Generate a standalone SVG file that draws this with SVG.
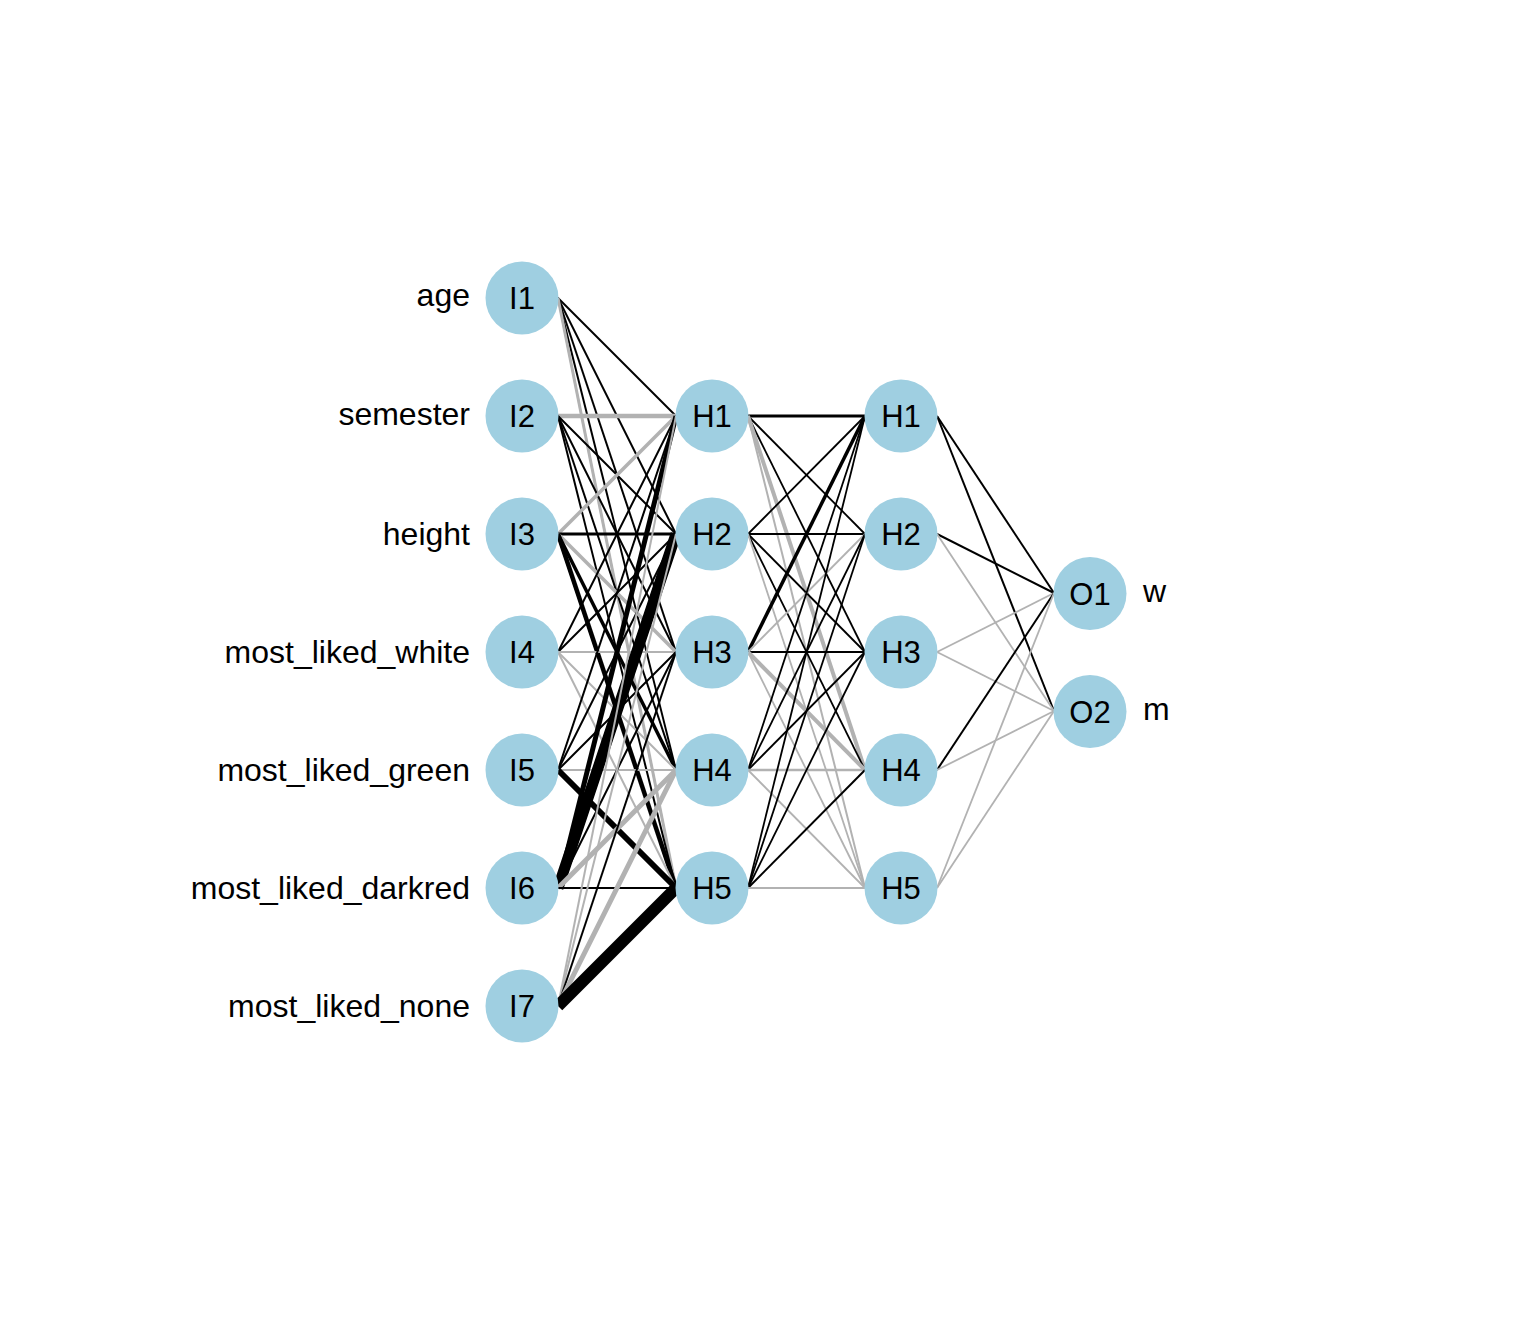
<svg xmlns="http://www.w3.org/2000/svg" width="1536" height="1344" viewBox="0 0 1536 1344">
<style>
.p{stroke:#000;fill:none;stroke-linecap:butt}
.n{stroke:#b2b2b2;fill:none;stroke-linecap:butt}
.node circle{fill:#9fcfe1}
.node text{font-family:"Liberation Sans",Arial,sans-serif;font-size:31px;fill:#000;text-anchor:middle}
.lbl{font-family:"Liberation Sans",Arial,sans-serif;font-size:32px;fill:#000}
</style>
<rect width="1536" height="1344" fill="#fff"/>
<g id="connectors">
<!-- input to hidden 1 -->
<line class="p" x1="558" y1="298" x2="676" y2="416" stroke-width="2"/>
<line class="p" x1="558" y1="298" x2="676" y2="534" stroke-width="2"/>
<line class="p" x1="558" y1="298" x2="676" y2="652" stroke-width="2"/>
<line class="p" x1="558" y1="298" x2="676" y2="770" stroke-width="2"/>
<line class="n" x1="558" y1="298" x2="676" y2="888" stroke-width="3"/>
<line class="n" x1="558" y1="416" x2="676" y2="416" stroke-width="4.5"/>
<line class="p" x1="558" y1="416" x2="676" y2="534" stroke-width="2"/>
<line class="p" x1="558" y1="416" x2="676" y2="652" stroke-width="2"/>
<line class="p" x1="558" y1="416" x2="676" y2="770" stroke-width="2"/>
<line class="p" x1="558" y1="416" x2="676" y2="888" stroke-width="2"/>
<line class="n" x1="558" y1="534" x2="676" y2="416" stroke-width="3.5"/>
<line class="p" x1="558" y1="534" x2="676" y2="534" stroke-width="3"/>
<line class="n" x1="558" y1="534" x2="676" y2="652" stroke-width="3.5"/>
<line class="p" x1="558" y1="534" x2="676" y2="770" stroke-width="3.5"/>
<line class="p" x1="558" y1="534" x2="676" y2="888" stroke-width="4.5"/>
<line class="p" x1="558" y1="652" x2="676" y2="416" stroke-width="2"/>
<line class="p" x1="558" y1="652" x2="676" y2="534" stroke-width="2"/>
<line class="n" x1="558" y1="652" x2="676" y2="652" stroke-width="2"/>
<line class="n" x1="558" y1="652" x2="676" y2="770" stroke-width="2"/>
<line class="n" x1="558" y1="652" x2="676" y2="888" stroke-width="2"/>
<line class="p" x1="558" y1="770" x2="676" y2="416" stroke-width="2"/>
<line class="p" x1="558" y1="770" x2="676" y2="534" stroke-width="2"/>
<line class="p" x1="558" y1="770" x2="676" y2="652" stroke-width="2"/>
<line class="n" x1="558" y1="770" x2="676" y2="770" stroke-width="2"/>
<line class="p" x1="558" y1="770" x2="676" y2="888" stroke-width="6"/>
<line class="p" x1="558" y1="888" x2="676" y2="416" stroke-width="5"/>
<line class="p" x1="558" y1="888" x2="676" y2="534" stroke-width="11"/>
<line class="p" x1="558" y1="888" x2="676" y2="652" stroke-width="2"/>
<line class="n" x1="558" y1="888" x2="676" y2="770" stroke-width="5"/>
<line class="p" x1="558" y1="888" x2="676" y2="888" stroke-width="2"/>
<line class="n" x1="558" y1="1006" x2="676" y2="416" stroke-width="2"/>
<line class="n" x1="558" y1="1006" x2="676" y2="534" stroke-width="2"/>
<line class="p" x1="558" y1="1006" x2="676" y2="652" stroke-width="2"/>
<line class="n" x1="558" y1="1006" x2="676" y2="770" stroke-width="5"/>
<line class="p" x1="558" y1="1006" x2="676" y2="888" stroke-width="12"/>
<!-- hidden 1 to hidden 2 -->
<line class="p" x1="748" y1="416" x2="865" y2="416" stroke-width="3"/>
<line class="p" x1="748" y1="416" x2="865" y2="534" stroke-width="1.8"/>
<line class="p" x1="748" y1="416" x2="865" y2="652" stroke-width="1.8"/>
<line class="n" x1="748" y1="416" x2="865" y2="770" stroke-width="4"/>
<line class="n" x1="748" y1="416" x2="865" y2="888" stroke-width="2"/>
<line class="p" x1="748" y1="534" x2="865" y2="416" stroke-width="1.8"/>
<line class="p" x1="748" y1="534" x2="865" y2="534" stroke-width="2"/>
<line class="p" x1="748" y1="534" x2="865" y2="652" stroke-width="1.8"/>
<line class="p" x1="748" y1="534" x2="865" y2="770" stroke-width="1.8"/>
<line class="n" x1="748" y1="534" x2="865" y2="888" stroke-width="1.8"/>
<line class="p" x1="748" y1="652" x2="865" y2="416" stroke-width="3.5"/>
<line class="n" x1="748" y1="652" x2="865" y2="534" stroke-width="1.8"/>
<line class="p" x1="748" y1="652" x2="865" y2="652" stroke-width="2"/>
<line class="n" x1="748" y1="652" x2="865" y2="770" stroke-width="4"/>
<line class="n" x1="748" y1="652" x2="865" y2="888" stroke-width="1.8"/>
<line class="p" x1="748" y1="770" x2="865" y2="416" stroke-width="1.8"/>
<line class="p" x1="748" y1="770" x2="865" y2="534" stroke-width="1.8"/>
<line class="p" x1="748" y1="770" x2="865" y2="652" stroke-width="1.8"/>
<line class="n" x1="748" y1="770" x2="865" y2="770" stroke-width="2.5"/>
<line class="n" x1="748" y1="770" x2="865" y2="888" stroke-width="1.8"/>
<line class="p" x1="748" y1="888" x2="865" y2="416" stroke-width="1.8"/>
<line class="p" x1="748" y1="888" x2="865" y2="534" stroke-width="1.8"/>
<line class="p" x1="748" y1="888" x2="865" y2="652" stroke-width="1.8"/>
<line class="p" x1="748" y1="888" x2="865" y2="770" stroke-width="2"/>
<line class="n" x1="748" y1="888" x2="865" y2="888" stroke-width="1.8"/>
<!-- hidden 2 to output -->
<line class="p" x1="937" y1="416" x2="1054" y2="593" stroke-width="2"/>
<line class="p" x1="937" y1="416" x2="1054" y2="711" stroke-width="2"/>
<line class="p" x1="937" y1="534" x2="1054" y2="593" stroke-width="2"/>
<line class="n" x1="937" y1="534" x2="1054" y2="711" stroke-width="1.8"/>
<line class="n" x1="937" y1="652" x2="1054" y2="593" stroke-width="1.8"/>
<line class="n" x1="937" y1="652" x2="1054" y2="711" stroke-width="1.8"/>
<line class="p" x1="937" y1="770" x2="1054" y2="593" stroke-width="2"/>
<line class="n" x1="937" y1="770" x2="1054" y2="711" stroke-width="1.8"/>
<line class="n" x1="937" y1="888" x2="1054" y2="593" stroke-width="1.8"/>
<line class="n" x1="937" y1="888" x2="1054" y2="711" stroke-width="1.8"/>
</g>
<g id="I1" class="node"><circle cx="522" cy="298" r="36.5"/><text x="522" y="309">I1</text></g>
<g id="I2" class="node"><circle cx="522" cy="416" r="36.5"/><text x="522" y="427">I2</text></g>
<g id="I3" class="node"><circle cx="522" cy="534" r="36.5"/><text x="522" y="545">I3</text></g>
<g id="I4" class="node"><circle cx="522" cy="652" r="36.5"/><text x="522" y="663">I4</text></g>
<g id="I5" class="node"><circle cx="522" cy="770" r="36.5"/><text x="522" y="781">I5</text></g>
<g id="I6" class="node"><circle cx="522" cy="888" r="36.5"/><text x="522" y="899">I6</text></g>
<g id="I7" class="node"><circle cx="522" cy="1006" r="36.5"/><text x="522" y="1017">I7</text></g>
<g id="HA1" class="node"><circle cx="712" cy="416" r="36.5"/><text x="712" y="427">H1</text></g>
<g id="HA2" class="node"><circle cx="712" cy="534" r="36.5"/><text x="712" y="545">H2</text></g>
<g id="HA3" class="node"><circle cx="712" cy="652" r="36.5"/><text x="712" y="663">H3</text></g>
<g id="HA4" class="node"><circle cx="712" cy="770" r="36.5"/><text x="712" y="781">H4</text></g>
<g id="HA5" class="node"><circle cx="712" cy="888" r="36.5"/><text x="712" y="899">H5</text></g>
<g id="HB1" class="node"><circle cx="901" cy="416" r="36.5"/><text x="901" y="427">H1</text></g>
<g id="HB2" class="node"><circle cx="901" cy="534" r="36.5"/><text x="901" y="545">H2</text></g>
<g id="HB3" class="node"><circle cx="901" cy="652" r="36.5"/><text x="901" y="663">H3</text></g>
<g id="HB4" class="node"><circle cx="901" cy="770" r="36.5"/><text x="901" y="781">H4</text></g>
<g id="HB5" class="node"><circle cx="901" cy="888" r="36.5"/><text x="901" y="899">H5</text></g>
<g id="O1" class="node"><circle cx="1090" cy="593.5" r="36.5"/><text x="1090" y="605">O1</text></g>
<g id="O2" class="node"><circle cx="1090" cy="711.5" r="36.5"/><text x="1090" y="723">O2</text></g>
<g id="labels">
<text class="lbl" x="470" y="306" text-anchor="end">age</text>
<text class="lbl" x="470" y="425" text-anchor="end">semester</text>
<text class="lbl" x="470" y="545" text-anchor="end">height</text>
<text class="lbl" x="470" y="663" text-anchor="end">most_liked_white</text>
<text class="lbl" x="470" y="781" text-anchor="end">most_liked_green</text>
<text class="lbl" x="470" y="899" text-anchor="end">most_liked_darkred</text>
<text class="lbl" x="470" y="1017" text-anchor="end">most_liked_none</text>
<text class="lbl" x="1143" y="602">w</text>
<text class="lbl" x="1143" y="720">m</text>
</g>
</svg>
